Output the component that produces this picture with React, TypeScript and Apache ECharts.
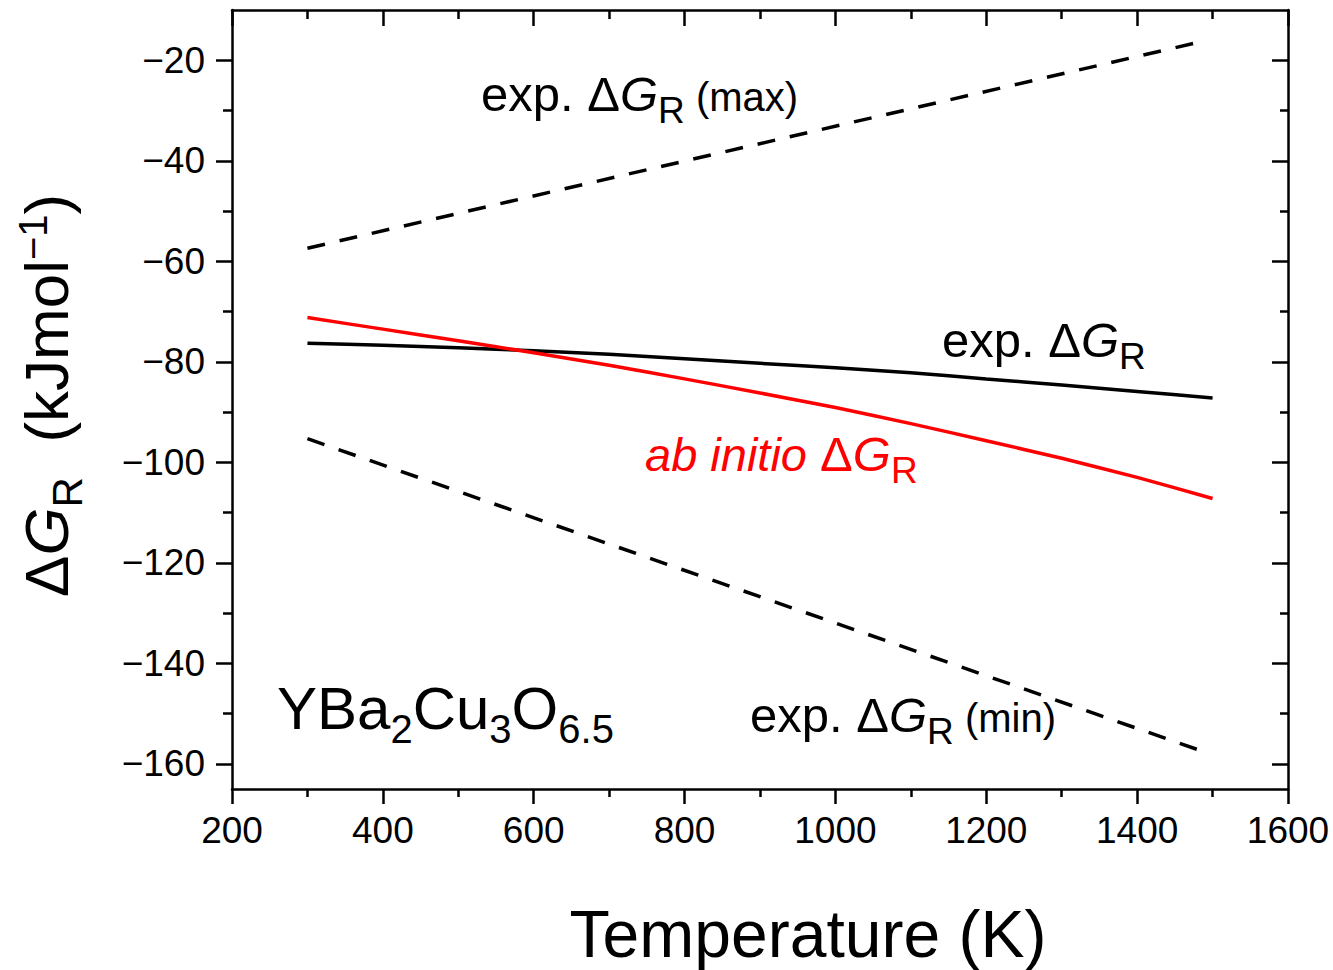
import React, { useEffect, useRef } from 'react';
import * as echarts from 'echarts';

// ---- data ----
const temperatures = [300, 400, 500, 600, 700, 800, 900, 1000, 1100, 1200, 1300, 1400, 1500];
const expDeltaG = [-76.3, -76.7, -77.2, -77.8, -78.5, -79.4, -80.3, -81.2, -82.2, -83.4, -84.6, -85.9, -87.2];
const abInitioDeltaG = [-71.2, -73.5, -75.8, -78.2, -80.7, -83.4, -86.2, -89.1, -92.3, -95.7, -99.2, -103.0, -107.2];
const boundTemperatures = [300, 1485];
const expMaxDeltaG = [-57.4, -16.3];
const expMinDeltaG = [-95.3, -157.4];
const yMajorTicks = [-160, -140, -120, -100, -80, -60, -40, -20];
const yMinorTicks = [-150, -130, -110, -90, -70, -50, -30];

const FONT = "'Liberation Sans', Arial, Helvetica, sans-serif";
const BL = 0.8465;

type Part = { t: string; size: number; italic?: boolean; shift?: number };

function richText(parts: Part[], base: number, pad: number) {
  const rich: Record<string, any> = {};
  let text = '';
  parts.forEach((p, i) => {
    const key = 'p' + i;
    rich[key] = {
      fontSize: p.size,
      fontFamily: FONT,
      fontStyle: p.italic ? 'italic' : 'normal',
      padding: [Math.max(0, pad + BL * (base - p.size) + (p.shift || 0)), 0, 0, 0],
      verticalAlign: 'top',
    };
    text += `{${key}|${p.t}}`;
  });
  return { text, rich, top: pad + BL * base };
}

function label(x: number, baseline: number, parts: Part[], base: number, color: string) {
  const r = richText(parts, base, 4);
  return {
    type: 'text',
    x,
    y: baseline - r.top,
    z: 100,
    style: {
      text: r.text,
      rich: r.rich,
      fill: color,
      fontFamily: FONT,
      fontSize: base,
      align: 'left',
      verticalAlign: 'top',
    },
  };
}

const axisLineStyle = { color: '#000', width: 2.5 };

export default function App() {
  const ref = useRef<HTMLDivElement>(null);
  useEffect(() => {
    if (!ref.current) return;
    const chart = echarts.init(ref.current, undefined, { renderer: 'svg' });

    const yTitle = richText(
      [
        { t: 'Δ', size: 62 },
        { t: 'G', size: 62, italic: true },
        { t: 'R', size: 42, shift: 15 },
        { t: '  (kJmol', size: 62 },
        { t: '−1', size: 40, shift: -21 },
        { t: ')', size: 62 },
      ],
      62,
      14
    );

    const option: any = {
      animation: false,
      backgroundColor: '#fff',
      grid: { left: 232, top: 10, width: 1056, height: 779, outerBoundsMode: 'none' },
      xAxis: [
        {
          type: 'value',
          position: 'bottom',
          min: 200,
          max: 1600,
          interval: 200,
          axisLine: { show: true, onZero: false, lineStyle: axisLineStyle },
          axisTick: { show: true, inside: false, length: 15, lineStyle: axisLineStyle },
          minorTick: { show: true, splitNumber: 2, length: 8, lineStyle: axisLineStyle },
          splitLine: { show: false },
          minorSplitLine: { show: false },
          axisLabel: {
            fontSize: 37,
            color: '#000',
            fontFamily: FONT,
            margin: 23,
            formatter: (v: number) => String(v),
          },
          name: 'Temperature (K)',
          nameLocation: 'middle',
          nameGap: 112,
          nameTextStyle: { fontSize: 66, color: '#000', fontFamily: FONT, padding: [0, 0, 0, 96] },
        },
        {
          type: 'value',
          position: 'top',
          min: 200,
          max: 1600,
          interval: 200,
          axisLine: { show: true, onZero: false, lineStyle: axisLineStyle },
          axisTick: { show: true, inside: true, length: 16, lineStyle: axisLineStyle },
          minorTick: { show: true, splitNumber: 2, length: 9, lineStyle: axisLineStyle },
          splitLine: { show: false },
          minorSplitLine: { show: false },
          axisLabel: { show: false },
        },
      ],
      yAxis: [
        {
          type: 'value',
          position: 'left',
          min: -165,
          max: -10,
          axisLine: { show: true, onZero: false, lineStyle: axisLineStyle },
          axisTick: { show: true, inside: false, length: 16, customValues: yMajorTicks, lineStyle: axisLineStyle },
          axisLabel: {
            customValues: yMajorTicks,
            fontSize: 37,
            color: '#000',
            fontFamily: FONT,
            margin: 27,
            formatter: (v: number) => (v < 0 ? '\u2212' + Math.abs(v) : String(v)),
          },
          splitLine: { show: false },
        },
        {
          type: 'value',
          position: 'left',
          min: -165,
          max: -10,
          axisLine: { show: false, onZero: false },
          axisTick: { show: true, inside: false, length: 9, customValues: yMinorTicks, lineStyle: axisLineStyle },
          axisLabel: { show: false },
          splitLine: { show: false },
        },
        {
          type: 'value',
          position: 'right',
          min: -165,
          max: -10,
          axisLine: { show: true, onZero: false, lineStyle: axisLineStyle },
          axisTick: { show: true, inside: true, length: 16, customValues: yMajorTicks, lineStyle: axisLineStyle },
          axisLabel: { show: false },
          splitLine: { show: false },
        },
        {
          type: 'value',
          position: 'right',
          min: -165,
          max: -10,
          axisLine: { show: false, onZero: false },
          axisTick: { show: true, inside: true, length: 8, customValues: yMinorTicks, lineStyle: axisLineStyle },
          axisLabel: { show: false },
          splitLine: { show: false },
        },
      ],
      series: [
        {
          name: 'exp. ΔG_R (max)',
          type: 'line',
          xAxisIndex: 0,
          yAxisIndex: 0,
          showSymbol: false,
          silent: true,
          data: boundTemperatures.map((t, i) => [t, expMaxDeltaG[i]]),
          lineStyle: { color: '#000', width: 3.5, type: [18, 15] },
        },
        {
          name: 'exp. ΔG_R (min)',
          type: 'line',
          xAxisIndex: 0,
          yAxisIndex: 0,
          showSymbol: false,
          silent: true,
          data: boundTemperatures.map((t, i) => [t, expMinDeltaG[i]]),
          lineStyle: { color: '#000', width: 3.5, type: [18, 15] },
        },
        {
          name: 'exp. ΔG_R',
          type: 'line',
          xAxisIndex: 0,
          yAxisIndex: 0,
          showSymbol: false,
          silent: true,
          smooth: 0.2,
          data: temperatures.map((t, i) => [t, expDeltaG[i]]),
          lineStyle: { color: '#000', width: 3.5 },
        },
        {
          name: 'ab initio ΔG_R',
          type: 'line',
          xAxisIndex: 0,
          yAxisIndex: 0,
          showSymbol: false,
          silent: true,
          smooth: 0.2,
          data: temperatures.map((t, i) => [t, abInitioDeltaG[i]]),
          lineStyle: { color: '#ff0000', width: 3.5 },
        },
      ],
      graphic: [
        {
          type: 'text',
          x: 1,
          y: 597,
          rotation: Math.PI / 2,
          z: 100,
          style: {
            text: yTitle.text,
            rich: yTitle.rich,
            fill: '#000',
            fontFamily: FONT,
            fontSize: 62,
            align: 'left',
            verticalAlign: 'top',
          },
        },
        label(481, 111, [
          { t: 'exp. Δ', size: 49 },
          { t: 'G', size: 49, italic: true },
          { t: 'R', size: 37, shift: 12 },
          { t: ' (max)', size: 40 },
        ], 49, '#000'),
        label(942, 357, [
          { t: 'exp. Δ', size: 49 },
          { t: 'G', size: 49, italic: true },
          { t: 'R', size: 37, shift: 12 },
        ], 49, '#000'),
        label(645, 471, [
          { t: 'ab initio ', size: 47, italic: true },
          { t: 'Δ', size: 49 },
          { t: 'G', size: 49, italic: true },
          { t: 'R', size: 37, shift: 12 },
        ], 49, '#ff0000'),
        label(750, 732, [
          { t: 'exp. Δ', size: 49 },
          { t: 'G', size: 49, italic: true },
          { t: 'R', size: 37, shift: 12 },
          { t: ' (min)', size: 40 },
        ], 49, '#000'),
        label(277, 729, [
          { t: 'YBa', size: 60 },
          { t: '2', size: 40, shift: 14 },
          { t: 'Cu', size: 60 },
          { t: '3', size: 40, shift: 14 },
          { t: 'O', size: 60 },
          { t: '6.5', size: 40, shift: 14 },
        ], 60, '#000'),
      ],
    };

    chart.setOption(option);
    return () => chart.dispose();
  }, []);

  return (
    <div
      ref={ref}
      style={{ position: 'fixed', left: 0, top: 0, width: 1333, height: 970, background: '#fff' }}
    />
  );
}
